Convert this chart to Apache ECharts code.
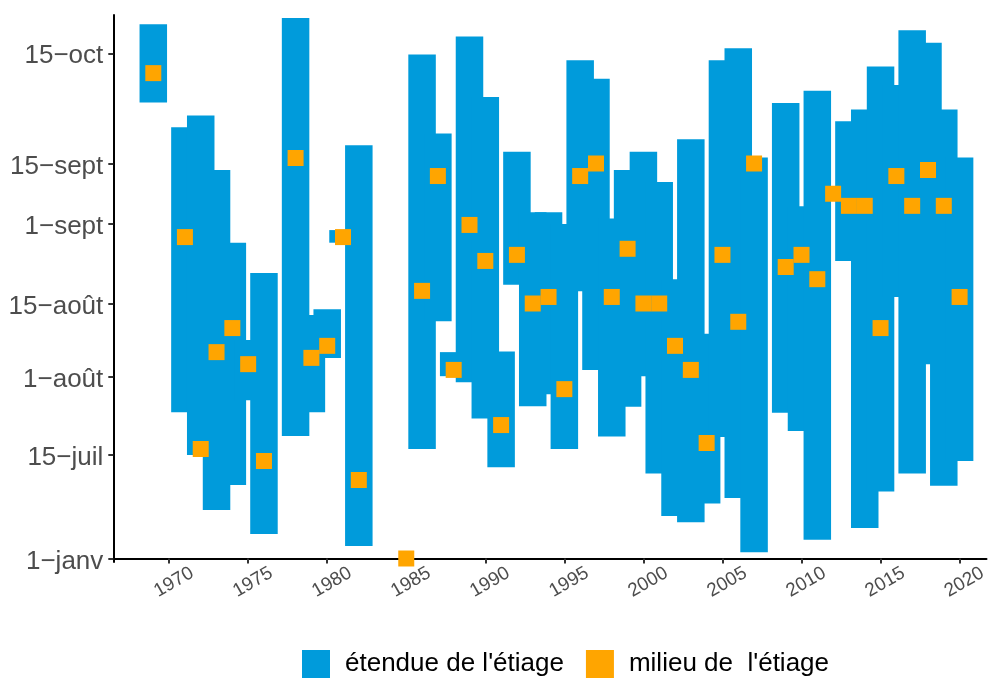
<!DOCTYPE html>
<html>
<head>
<meta charset="utf-8">
<style>
html, body { margin: 0; padding: 0; background: #fff; }
#chart { width: 990px; height: 678px; }
</style>
<script src="https://cdn.jsdelivr.net/npm/echarts@6/dist/echarts.min.js"></script>
</head>
<body>
<div id="chart"></div>
<script>
// low-water periods, dates as days since 1 January
const years = [1969, 1971, 1972, 1973, 1974, 1975, 1976, 1978, 1979, 1980, 1981, 1982, 1985,
    1986, 1987, 1988, 1989, 1990, 1991, 1992, 1993, 1994, 1995, 1996, 1997, 1998, 1999,
    2000, 2001, 2002, 2003, 2004, 2005, 2006, 2007, 2009, 2010, 2011, 2012, 2013, 2014,
    2015, 2016, 2017, 2018, 2019, 2020]
const startDays = [273.6, 204.3, 195, 91.4, 138.5, 206.9, 46.1, 199.1, 204.3, 215.6, 239, 23.5, null,
    196.3, 222.6, 212.1, 210.8, 202.9, 171.9, 230, 205.6, 208.2, 196.3, 228.6, 213.3, 199, 205.5,
    212.1, 160.1, 80, 68.4, 103.5, 198.9, 113.9, 11.7, 204.2, 200.2, 35.3, 249, 235.1, 57.5,
    126.2, 227.4, 160.1, 214.4, 137.2, 183.7]
const endDays = [294.9, 266.9, 270.1, 255.5, 239, 219, 232.5, 296.6, 223.8, 224.9, 241.7, 262, null,
    286.7, 265.2, 216.7, 291.6, 275.1, 216.8, 260.2, 245.7, 245.7, 243, 285.1, 280.1, 244.3, 255.5,
    260.2, 252.7, 231.2, 263.6, 220.2, 285.1, 288.4, 258.6, 273.5, 247.1, 276.8, 251, 268.5, 271.7,
    283.4, 278.4, 293.3, 289.9, 271.7, 258.6]
const midDays = [281.6, 240.2, 196.3, 216.7, 221.3, 214.4, 183.7, 258.5, 215.6, 217.9, 240.2, 147.9, 0,
    228.7, 254.1, 213.3, 242.8, 235.1, 201.5, 236.4, 226, 227.4, 209.3, 254.1, 257, 227.4, 237.7,
    226, 226, 217.9, 213.3, 197.6, 236.4, 222.5, 257, 233.8, 236.4, 231.2, 250, 247.2, 247.2,
    221.3, 254.1, 247.2, 255.5, 247.2, 227.4]

// the date axis is stretched around august: anchor dates and their axis positions
const tickDays = [0, 195, 212, 226, 243, 257, 287]
const tickPos = [0, 103.5, 181.8, 255, 334.5, 395, 505.2]
const tickLabels = ['1\u2212janv', '15\u2212juil', '1\u2212ao\u00fbt', '15\u2212ao\u00fbt', '1\u2212sept', '15\u2212sept', '15\u2212oct']
const yearTicks = [1970, 1975, 1980, 1985, 1990, 1995, 2000, 2005, 2010, 2015, 2020]

const BLUE = '#009BDB'
const ORANGE = '#FFA500'
const FONT = '"Liberation Sans", Arial, sans-serif'
const halfWidth = 0.87

const toAxis = day => {
    let i = 0
    while (i < tickDays.length - 2 && day > tickDays[i + 1]) {
        i++
    }
    const t = (day - tickDays[i]) / (tickDays[i + 1] - tickDays[i])
    return tickPos[i] + t * (tickPos[i + 1] - tickPos[i])
}

const barData = years
    .map((year, i) => (startDays[i] == null ? null : [year, toAxis(startDays[i]), toAxis(endDays[i])]))
    .filter(item => item)
const midData = years.map((year, i) => [year, toAxis(midDays[i])])

const chart = echarts.init(document.getElementById('chart'))

chart.setOption({
    animation: false,
    textStyle: { fontFamily: FONT },
    grid: {
        left: 113.3,
        right: 1,
        top: 15,
        bottom: 116,
    },
    legend: {
        left: 302,
        top: 650,
        padding: 0,
        itemWidth: 28,
        itemHeight: 28,
        itemGap: 22,
        textStyle: {
            fontFamily: FONT,
            fontSize: 26,
            color: '#000',
            padding: [6, 0, 0, 10],
        },
        data: [
            { name: "\u00e9tendue de l'\u00e9tiage", icon: 'rect' },
            { name: "milieu de  l'\u00e9tiage", icon: 'rect' },
        ],
    },
    xAxis: {
        type: 'value',
        min: 1966.47,
        max: 2021.7,
        axisLine: { lineStyle: { color: '#000', width: 2 } },
        axisTick: {
            customValues: yearTicks,
            length: 5,
            lineStyle: { color: '#333', width: 2 },
        },
        axisLabel: {
            customValues: yearTicks,
            rotate: 30,
            align: 'center',
            verticalAlign: 'top',
            margin: 12,
            fontSize: 19,
            fontFamily: FONT,
            color: '#4d4d4d',
            formatter: value => String(value),
        },
        splitLine: { show: false },
    },
    yAxis: {
        type: 'value',
        min: -3.5,
        max: 543.5,
        axisLine: { show: true, lineStyle: { color: '#000', width: 2 } },
        axisTick: {
            show: true,
            customValues: tickPos,
            length: 5,
            lineStyle: { color: '#333', width: 2 },
        },
        axisLabel: {
            customValues: tickPos,
            margin: 10,
            fontSize: 26,
            fontFamily: FONT,
            color: '#4d4d4d',
            verticalAlign: 'top',
            lineHeight: 6,
            formatter: value => {
                let best = 0
                tickPos.forEach((pos, i) => {
                    if (Math.abs(pos - value) < Math.abs(tickPos[best] - value)) {
                        best = i
                    }
                })
                return tickLabels[best]
            },
        },
        splitLine: { show: false },
    },
    series: [
        {
            name: "\u00e9tendue de l'\u00e9tiage",
            type: 'custom',
            itemStyle: { color: BLUE },
            encode: { x: 0, y: [1, 2] },
            renderItem: (params, api) => {
                const year = api.value(0)
                const topLeft = api.coord([year - halfWidth, api.value(2)])
                const bottomRight = api.coord([year + halfWidth, api.value(1)])
                return {
                    type: 'rect',
                    shape: {
                        x: topLeft[0],
                        y: topLeft[1],
                        width: bottomRight[0] - topLeft[0],
                        height: bottomRight[1] - topLeft[1],
                    },
                    style: { fill: BLUE },
                }
            },
            data: barData,
            z: 2,
        },
        {
            name: "milieu de  l'\u00e9tiage",
            type: 'scatter',
            symbol: 'rect',
            symbolSize: 16,
            itemStyle: { color: ORANGE, opacity: 1 },
            data: midData,
            z: 3,
        },
    ],
})
</script>
</body>
</html>
